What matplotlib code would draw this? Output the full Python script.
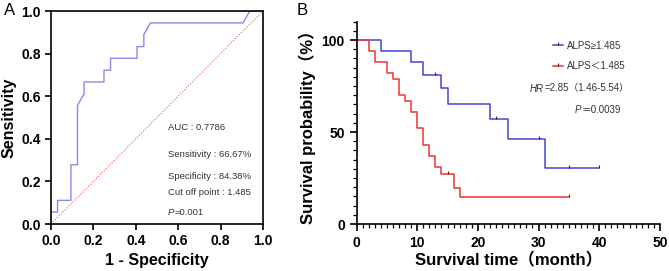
import matplotlib.pyplot as plt
from matplotlib.markers import MarkerStyle

plt.rcParams['font.family'] = ['Liberation Sans', 'Noto Sans CJK SC', 'DejaVu Sans']

# ROC curve (panel A)
fpr = [0, 0, 0.031, 0.031, 0.094, 0.094, 0.125, 0.125, 0.156, 0.156, 0.25, 0.25,
       0.281, 0.281, 0.406, 0.406, 0.438, 0.438, 0.469, 0.906, 0.938, 1.0]
tpr = [0, 0.056, 0.056, 0.111, 0.111, 0.278, 0.278, 0.556, 0.611, 0.667, 0.667, 0.722,
       0.722, 0.778, 0.778, 0.833, 0.833, 0.889, 0.944, 0.944, 1.0, 1.0]
roc_notes = ['AUC : 0.7786', 'Sensitivity : 66.67%', 'Specificity : 84.38%', 'Cut off point : 1.485']
roc_p = '=0.001'

# Kaplan-Meier curves (panel B)
hi_t = [0, 4, 9, 11, 14, 15, 22, 25, 31, 40]
hi_s = [100, 94, 88, 81, 74, 65, 57, 46, 30.7, 30.7]
hi_cens_t = [13, 23, 30, 35, 40]
lo_t = [0, 2, 3, 5, 6, 7, 8, 9, 10, 11, 12, 13, 14, 16, 17, 35]
lo_s = [100, 94, 88, 82, 79, 70, 67, 61, 52, 43, 37, 31, 27, 19.5, 14.5, 14.5]
lo_cens_t = [15, 35]
hi_label = 'ALPS≥1.485'
lo_label = 'ALPS＜1.485'
hr_text = '=2.85（1.46-5.54）'
km_p = '＝0.0039'


def surv_at(t, times, surv):
    s = surv[0]
    for ti, si in zip(times, surv):
        if ti <= t:
            s = si
    return s


def italic_lead(axis, x, y, lead, rest, va='bottom', **kw):
    # italic letter(s) followed by plain text
    t = axis.text(x, y, lead, fontstyle='italic', va=va, **kw)
    kw.pop('transform', None)
    axis.annotate(rest, xy=(1, 0), xycoords=t, xytext=(0.4, 0),
                  textcoords='offset points', va='bottom', ha='left', **kw)


tick_up = MarkerStyle([(0, 0), (0, 1)])

fig = plt.figure(figsize=(6.69, 2.71), dpi=100)

# ---- panel A
ax = fig.add_axes([0.0762, 0.1734, 0.3169, 0.786])
ax.plot(fpr, tpr, color='#8a8ae6', lw=1.0)
ax.plot([0, 1], [0, 1], color='#e06060', lw=0.8, ls=(0, (1, 1.5)))
ax.set_xlim(0, 1)
ax.set_ylim(0, 1)
ticks = [0, 0.2, 0.4, 0.6, 0.8, 1.0]
ax.set_xticks(ticks)
ax.set_yticks(ticks)
ax.set_xticklabels(['%.1f' % v for v in ticks], fontweight='bold', fontsize=10)
ax.set_yticklabels(['%.1f' % v for v in ticks], fontweight='bold', fontsize=10)
ax.tick_params(width=1.2, length=4)
for sp in ax.spines.values():
    sp.set_linewidth(1.2)
ax.set_xlabel('1 - Specificity', fontweight='bold', fontsize=11.5, labelpad=3)
ax.set_ylabel('Sensitivity', fontweight='bold', fontsize=11.5, labelpad=3)
ys = [0.455, 0.324, 0.225, 0.146]
for y, s in zip(ys, roc_notes):
    ax.text(0.55, y, s, fontsize=6.8, color='#333333', va='center')
italic_lead(ax, 0.55, 0.035, 'P', roc_p, fontsize=6.8, color='#333333')
fig.text(0.006, 0.99, 'A', fontsize=12, va='top')

# ---- panel B
bx = fig.add_axes([0.533, 0.1734, 0.4533, 0.7465])
bx.step(hi_t, hi_s, where='post', color='#4444dd', lw=1.1)
bx.step(lo_t, lo_s, where='post', color='#ee3333', lw=1.1)
bx.plot(hi_cens_t, [surv_at(t, hi_t, hi_s) for t in hi_cens_t], ls='none',
        marker=tick_up, ms=5, mec='#222255', mew=0.8)
bx.plot(lo_cens_t, [surv_at(t, lo_t, lo_s) for t in lo_cens_t], ls='none',
        marker=tick_up, ms=5, mec='#552222', mew=0.8)
bx.set_xlim(0, 50)
bx.set_ylim(0, 110)
bx.spines['top'].set_visible(False)
bx.spines['right'].set_visible(False)
for sp in ['left', 'bottom']:
    bx.spines[sp].set_linewidth(1.2)
bx.set_xticks([0, 10, 20, 30, 40, 50])
bx.set_xticks(range(0, 51), minor=True)
bx.set_yticks([0, 50, 100])
bx.set_yticks(range(0, 111, 5), minor=True)
bx.set_xticklabels(['0', '10', '20', '30', '40', '50'], fontweight='bold', fontsize=10)
bx.set_yticklabels(['0', '50', '100'], fontweight='bold', fontsize=10)
bx.tick_params(which='major', width=1.2, length=5)
bx.tick_params(which='minor', width=0.9, length=3)
bx.set_xlabel('Survival time（month）', fontweight='bold', fontsize=12, labelpad=2)
bx.set_ylabel('Survival probability（%）', fontweight='bold', fontsize=12, labelpad=4)

h1, = bx.plot([], [], color='#4444dd', lw=1.1, marker=tick_up, ms=5, mec='#222255', mew=0.8)
h2, = bx.plot([], [], color='#ee3333', lw=1.1, marker=tick_up, ms=5, mec='#552222', mew=0.8)
leg = bx.legend([h1, h2], [hi_label, lo_label], loc='upper left',
                bbox_to_anchor=(0.62, 0.95), frameon=False, fontsize=7,
                handlelength=1.0, handletextpad=0.4, labelspacing=1.1,
                numpoints=1)
for t in leg.get_texts():
    t.set_color('#333333')
italic_lead(bx, 0.571, 0.645, 'HR', hr_text, transform=bx.transAxes,
            fontsize=7, color='#333333')
italic_lead(bx, 0.72, 0.54, 'P', km_p, transform=bx.transAxes,
            fontsize=7, color='#333333')
fig.text(0.443, 0.99, 'B', fontsize=12, va='top')

fig.savefig('out.png', dpi=100)
